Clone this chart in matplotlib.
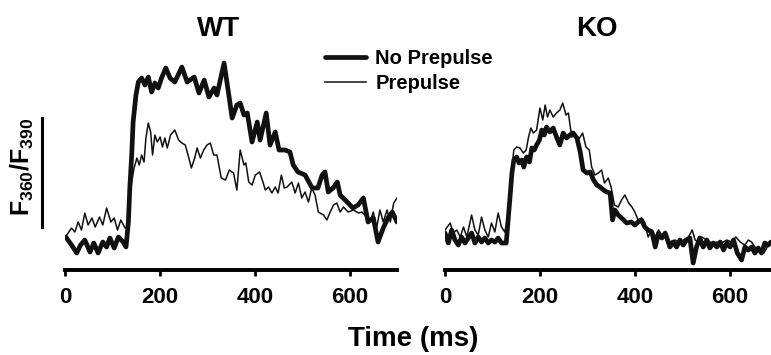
import matplotlib
matplotlib.use('Agg')
import matplotlib.pyplot as plt
from matplotlib.lines import Line2D

plt.rcParams['font.family'] = ['Liberation Sans', 'DejaVu Sans']
plt.rcParams['font.weight'] = 'bold'
plt.rcParams['mathtext.fontset'] = 'custom'
plt.rcParams['mathtext.rm'] = 'Liberation Sans:bold'
plt.rcParams['mathtext.bf'] = 'Liberation Sans:bold'

# WT, no prepulse (time in ms, F360/F390 in arbitrary units)
wt_nopp_t = [1, 13, 24, 32, 41, 52, 60, 69, 79, 87, 94, 103, 112, 122, 128, 133, 136, 140, 143,
             149, 154, 161, 168, 175, 182, 189, 196, 203, 212, 221, 231, 246, 257, 272, 282, 293,
             303, 314, 320, 335, 345, 352, 362, 369, 377, 384, 394, 405, 411, 424, 432, 443, 451,
             464, 474, 481, 491, 506, 521, 533, 542, 548, 555, 565, 574, 580, 595, 607, 618, 629,
             639, 650, 660, 671, 681, 690, 700]
wt_nopp = [0.33, 0.25, 0.17, 0.25, 0.30, 0.18, 0.27, 0.17, 0.28, 0.23, 0.32, 0.22, 0.33, 0.28, 0.23,
           0.48, 0.82, 1.15, 1.48, 1.75, 1.88, 1.92, 1.85, 1.93, 1.78, 1.87, 1.82, 1.92, 2.02, 1.92,
           1.88, 2.03, 1.88, 1.93, 1.77, 1.90, 1.73, 1.82, 1.75, 2.07, 1.75, 1.52, 1.65, 1.67, 1.55,
           1.57, 1.28, 1.48, 1.30, 1.57, 1.25, 1.38, 1.20, 1.20, 1.18, 1.05, 0.98, 0.95, 0.82, 0.82,
           0.95, 0.98, 0.78, 0.82, 0.88, 0.75, 0.68, 0.62, 0.65, 0.72, 0.48, 0.52, 0.28, 0.42, 0.52,
           0.58, 0.48]

# WT, prepulse
wt_pp_t = [3, 13, 20, 27, 34, 41, 48, 56, 63, 72, 79, 87, 96, 103, 110, 117, 126, 132, 136, 140,
           145, 151, 156, 161, 166, 170, 175, 180, 184, 189, 194, 200, 205, 210, 215, 222, 231, 239,
           246, 253, 259, 266, 273, 278, 285, 292, 299, 306, 313, 320, 329, 338, 346, 355, 362, 369,
           377, 381, 387, 394, 401, 410, 417, 422, 429, 436, 443, 449, 456, 462, 468, 478, 485, 492,
           499, 506, 513, 520, 527, 534, 545, 552, 559, 566, 573, 580, 587, 597, 608, 619, 626, 636,
           643, 650, 657, 664, 671, 679, 686, 693, 700]
wt_pp = [0.35, 0.42, 0.38, 0.48, 0.40, 0.57, 0.45, 0.52, 0.43, 0.53, 0.45, 0.62, 0.48, 0.52, 0.40,
         0.50, 0.42, 0.43, 0.72, 0.88, 1.02, 1.12, 1.05, 1.15, 1.08, 1.32, 1.47, 1.38, 1.15, 1.35,
         1.28, 1.33, 1.23, 1.32, 1.22, 1.35, 1.40, 1.30, 1.27, 1.25, 1.15, 1.02, 1.12, 1.22, 1.12,
         1.20, 1.25, 1.27, 1.15, 1.15, 0.92, 0.90, 1.00, 0.97, 0.80, 1.20, 1.05, 1.07, 0.88, 0.85,
         0.95, 0.98, 0.88, 0.80, 0.83, 0.77, 0.83, 0.77, 0.95, 0.82, 0.83, 0.88, 0.77, 0.87, 0.72,
         0.78, 0.68, 0.82, 0.75, 0.58, 0.55, 0.50, 0.58, 0.65, 0.67, 0.58, 0.63, 0.58, 0.60, 0.57,
         0.58, 0.53, 0.48, 0.58, 0.42, 0.60, 0.48, 0.60, 0.48, 0.67, 0.72]

# KO, no prepulse
ko_nopp_t = [0, 7, 14, 21, 28, 35, 42, 49, 56, 63, 70, 77, 84, 91, 98, 105, 112, 119, 129, 133,
             137, 141, 145, 151, 156, 162, 166, 172, 178, 183, 188, 193, 199, 204, 209, 214, 221,
             228, 235, 242, 249, 256, 263, 270, 278, 285, 291, 299, 306, 313, 320, 327, 334, 341,
             348, 353, 358, 365, 372, 383, 393, 400, 407, 414, 421, 428, 436, 443, 450, 457, 464,
             474, 481, 488, 495, 502, 509, 516, 523, 530, 537, 544, 552, 558, 565, 573, 580, 587,
             594, 601, 608, 616, 625, 632, 639, 646, 653, 660, 667, 674, 681, 687]
ko_nopp = [0.37, 0.27, 0.40, 0.30, 0.25, 0.33, 0.27, 0.32, 0.37, 0.27, 0.33, 0.28, 0.32, 0.27, 0.30,
           0.28, 0.32, 0.27, 0.27, 0.50, 0.73, 0.97, 1.10, 1.13, 1.07, 1.10, 1.03, 1.13, 1.08, 1.22,
           1.20, 1.25, 1.30, 1.40, 1.35, 1.43, 1.38, 1.42, 1.33, 1.25, 1.37, 1.32, 1.35, 1.37, 1.32,
           1.18, 1.00, 0.97, 0.98, 0.90, 0.85, 0.83, 0.80, 0.78, 0.77, 0.50, 0.60, 0.55, 0.52, 0.47,
           0.48, 0.45, 0.48, 0.50, 0.43, 0.40, 0.38, 0.23, 0.37, 0.32, 0.37, 0.23, 0.28, 0.23, 0.30,
           0.25, 0.30, 0.32, 0.07, 0.23, 0.32, 0.23, 0.30, 0.22, 0.27, 0.23, 0.28, 0.20, 0.27, 0.23,
           0.30, 0.17, 0.10, 0.23, 0.20, 0.23, 0.17, 0.22, 0.17, 0.27, 0.25, 0.28]

# KO, prepulse
ko_pp_t = [0, 11, 17, 25, 32, 39, 46, 56, 63, 70, 77, 84, 91, 98, 105, 112, 119, 126, 133, 137,
           141, 145, 151, 158, 165, 171, 176, 181, 186, 193, 200, 206, 211, 216, 221, 228, 235, 242,
           248, 255, 260, 267, 274, 281, 290, 297, 304, 309, 316, 323, 330, 336, 344, 350, 357, 365,
           372, 379, 387, 394, 400, 407, 414, 421, 428, 436, 443, 450, 457, 464, 474, 485, 495, 502,
           513, 521, 527, 534, 541, 552, 562, 573, 583, 594, 604, 613, 622, 632, 639, 646, 653, 664,
           672, 679, 687]
ko_pp = [0.40, 0.47, 0.37, 0.40, 0.33, 0.43, 0.33, 0.55, 0.40, 0.35, 0.53, 0.40, 0.33, 0.47, 0.38,
         0.57, 0.43, 0.38, 0.55, 0.80, 1.02, 1.20, 1.23, 1.22, 1.17, 1.20, 1.33, 1.42, 1.37, 1.40,
         1.62, 1.50, 1.65, 1.53, 1.60, 1.53, 1.57, 1.60, 1.67, 1.55, 1.57, 1.33, 1.35, 1.30, 1.37,
         1.23, 1.20, 1.03, 0.95, 0.97, 1.00, 0.87, 0.92, 0.83, 0.65, 0.63, 0.70, 0.75, 0.67, 0.63,
         0.58, 0.50, 0.52, 0.47, 0.33, 0.40, 0.33, 0.40, 0.33, 0.38, 0.28, 0.30, 0.27, 0.30, 0.33,
         0.40, 0.30, 0.28, 0.33, 0.30, 0.27, 0.28, 0.27, 0.30, 0.28, 0.33, 0.28, 0.25, 0.30, 0.28,
         0.23, 0.20, 0.17, 0.23, 0.27]

xticks = [0, 200, 400, 600]

fig = plt.figure(figsize=(7.71, 3.55), dpi=100)
ax_wt = fig.add_axes([0.0848, 0.2394, 0.4301, 0.6197])
ax_ko = fig.add_axes([0.5772, 0.2394, 0.4228, 0.6197])

for ax, t1, y1, t2, y2, xmax in [(ax_wt, wt_nopp_t, wt_nopp, wt_pp_t, wt_pp, 700),
                                 (ax_ko, ko_nopp_t, ko_nopp, ko_pp_t, ko_pp, 687)]:
    ax.plot(t1, y1, color='#111111', lw=3.4, label='No Prepulse', zorder=2,
            solid_joinstyle='round', solid_capstyle='round')
    ax.plot(t2, y2, color='#111111', lw=1.1, label='Prepulse', zorder=3,
            solid_joinstyle='round')
    ax.set_xlim(0, xmax)
    ax.set_ylim(0, 2.2)
    ax.set_xticks(xticks)
    ax.set_yticks([])
    for s in ['left', 'right', 'top']:
        ax.spines[s].set_visible(False)
    ax.spines['bottom'].set_linewidth(2.8)
    ax.tick_params(axis='x', direction='out', length=4, width=2, pad=8, labelsize=16)
    for lab in ax.get_xticklabels():
        lab.set_fontweight('bold')

fig.text(219 / 771, 1 - 29 / 355, 'WT', ha='center', va='center', fontsize=20, fontweight='bold')
fig.text(597 / 771, 1 - 29 / 355, 'KO', ha='center', va='center', fontsize=20, fontweight='bold')
fig.text(413 / 771, 1 - 339 / 355, 'Time (ms)', ha='center', va='center', fontsize=20,
         fontweight='bold')
fig.text(22 / 771, 1 - 167 / 355, r'$\mathbf{F_{360}/F_{390}}$', ha='center', va='center',
         rotation=90, fontsize=18)

# scale bar next to the y label
fig.add_artist(Line2D([42 / 771, 42 / 771], [1 - 118 / 355, 1 - 227 / 355], lw=2.2, color='k'))

fig.legend(*ax_wt.get_legend_handles_labels(), loc='upper left',
           bbox_to_anchor=(325 / 771, 1 - 49 / 355), frameon=False,
           handlelength=2.05, handletextpad=0.45, labelspacing=0.3, borderpad=0,
           borderaxespad=0, prop={'weight': 'bold', 'size': 14.5})

fig.savefig('out.png', dpi=100)
plt.close(fig)
